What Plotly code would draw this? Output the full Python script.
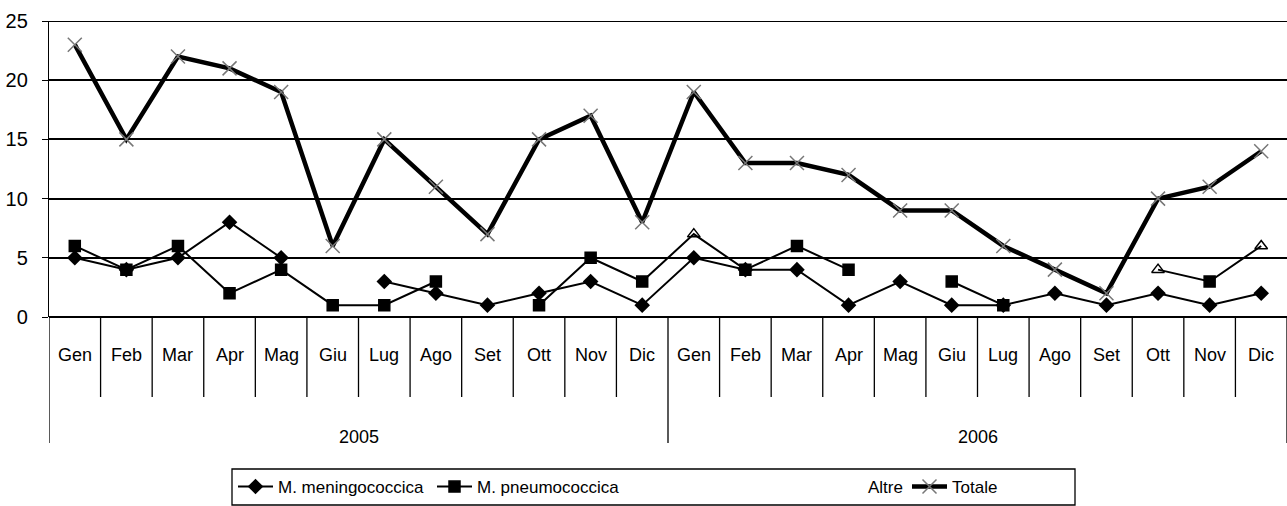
import plotly.graph_objects as go

# ---------------- data ----------------
months = ["Gen", "Feb", "Mar", "Apr", "Mag", "Giu", "Lug", "Ago", "Set", "Ott", "Nov", "Dic"]
years = ["2005", "2006"]

meningococcica = [5, 4, 5, 8, 5, None, 3, 2, 1, 2, 3, 1,
                  5, 4, 4, 1, 3, 1, 1, 2, 1, 2, 1, 2]
pneumococcica = [6, 4, 6, 2, 4, 1, 1, 3, None, 1, 5, 3,
                 7, 4, 6, 4, None, 3, 1, None, None, 4, 3, 6]
altre = [None] * 24  # series not legible in the reference (drawn in white)
totale = [23, 15, 22, 21, 19, 6, 15, 11, 7, 15, 17, 8,
          19, 13, 13, 12, 9, 9, 6, 4, 2, 10, 11, 14]

y_ticks = [0, 5, 10, 15, 20, 25]

# ---------------- geometry helpers (pixels -> paper) ----------------
W, H = 1287, 506
ML, MR, MT, MB = 49, 0, 21, 189
PW, PH = W - ML - MR, H - MT - MB


def py(pix_y):
    return (H - MB - pix_y) / PH


def px(pix_x):
    return (pix_x - ML) / PW


n = len(months) * len(years)
xs = list(range(n))
FONT = "Arial, Liberation Sans, sans-serif"

# per-point marker styles for the pneumococcica series (some markers appear as open triangles)
pn_symbols = ["square"] * n
for i in (12, 21, 23):
    pn_symbols[i] = "triangle-up-open"

fig = go.Figure()
fig.add_trace(go.Scatter(
    x=xs, y=meningococcica, name="M. meningococcica", mode="lines+markers",
    line=dict(color="black", width=2),
    marker=dict(symbol="diamond", size=12, color="black"),
    legend="legend", cliponaxis=False))
fig.add_trace(go.Scatter(
    x=xs, y=pneumococcica, name="M. pneumococcica", mode="lines+markers",
    line=dict(color="black", width=2),
    marker=dict(symbol=pn_symbols, size=11, color="black", line=dict(color="black", width=1.5)),
    legend="legend2", cliponaxis=False))
fig.add_trace(go.Scatter(
    x=xs, y=altre, name="Altre", mode="lines",
    line=dict(color="white", width=1.5),
    legend="legend3"))
fig.add_trace(go.Scatter(
    x=xs, y=totale, name="Totale", mode="lines+markers",
    line=dict(color="black", width=4.5),
    marker=dict(symbol="x-thin", size=14, color="#777", line=dict(color="#777", width=1.5)),
    legend="legend4", cliponaxis=False))

shapes = []
# top gridline at 25
shapes.append(dict(type="line", xref="paper", yref="y", x0=0, x1=1, y0=25, y1=25,
                   line=dict(color="black", width=2), layer="below"))
# category separators
for k in range(n + 1):
    b = k - 0.5
    is_year = (k % 12 == 0)
    shapes.append(dict(type="line", xref="x", yref="paper", x0=b, x1=b,
                       y0=0, y1=py(443) if is_year else py(397),
                       line=dict(color="black", width=1.3)))
# legend frame
shapes.append(dict(type="rect", xref="paper", yref="paper",
                   x0=px(232), x1=px(1075), y0=py(505), y1=py(469),
                   line=dict(color="black", width=1.3), fillcolor="rgba(0,0,0,0)"))

annotations = []
for yi, yr in enumerate(years):
    for mi, m in enumerate(months):
        annotations.append(dict(x=yi * 12 + mi, y=py(355), xref="x", yref="paper",
                                text=m, showarrow=False, xanchor="center", yanchor="middle",
                                font=dict(family=FONT, size=18, color="black")))
    annotations.append(dict(x=yi * 12 + 5.5, y=py(437), xref="x", yref="paper",
                            text=yr, showarrow=False, xanchor="center", yanchor="middle",
                            font=dict(family=FONT, size=18, color="black")))


def leg(left_pix):
    return dict(x=px(left_pix), xanchor="left", y=py(487), yanchor="middle",
                orientation="h", bgcolor="rgba(0,0,0,0)", borderwidth=0,
                itemwidth=35, font=dict(family=FONT, size=17, color="black"))


fig.update_layout(
    width=W, height=H,
    margin=dict(l=ML, r=MR, t=MT, b=MB, pad=0, autoexpand=False),
    paper_bgcolor="white", plot_bgcolor="white",
    font=dict(family=FONT, size=17, color="black"),
    xaxis=dict(range=[-0.5, n - 0.5], showgrid=False, zeroline=False,
               showticklabels=False, ticks="", showline=False, fixedrange=True),
    yaxis=dict(range=[0, 25], tickvals=y_ticks, ticktext=[str(v) for v in y_ticks],
               showgrid=True, gridcolor="black", gridwidth=2,
               zeroline=True, zerolinecolor="black", zerolinewidth=2,
               showline=True, linecolor="black", linewidth=1.3,
               ticks="outside", ticklen=6, tickcolor="black",
               ticklabelstandoff=10,
               tickfont=dict(family=FONT, size=20, color="black"), fixedrange=True),
    shapes=shapes, annotations=annotations,
    showlegend=True,
    legend=leg(233), legend2=leg(432), legend3=leg(823), legend4=leg(907),
)

fig.write_html("out.html",
               config={"displayModeBar": False},
               post_script="document.body.style.margin='0';document.body.style.overflow='hidden';")
